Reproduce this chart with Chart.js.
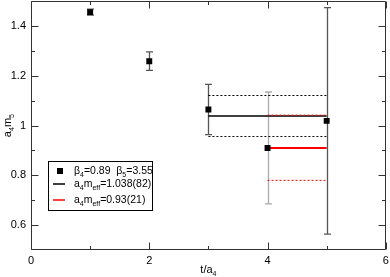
<!DOCTYPE html>
<html>
<head>
<meta charset="utf-8">
<script src="https://cdn.jsdelivr.net/npm/chart.js@4/dist/chart.umd.min.js"></script>
<style>
html,body{margin:0;padding:0;background:#fff;overflow:hidden;}
#c{display:block;}
</style>
</head>
<body>
<canvas id="c" width="390" height="277"></canvas>
<script>
// ---- data ----
const tValues = [1, 2, 3, 4, 5];
const meffValues = [1.456, 1.259, 1.065, 0.910, 1.019];
const meffErrors = [0.012, 0.037, 0.101, 0.225, 0.455];

const fit1Range = [3, 5];
const fit1Value = 1.039;
const fit1Band = [0.956, 1.121];

const fit2Range = [4, 5];
const fit2Value = 0.910;
const fit2Band = [0.780, 1.042];

const xTickValues = [0, 2, 4, 6];
const xMinorTicks = [1, 3, 5];
const yTickValues = [0.6, 0.8, 1.0, 1.2, 1.4];
const yMinorTicks = [0.7, 0.9, 1.1, 1.3];

const legendLabels = [
  [['β', ''], ['4', 'sub'], ['=0.89  β', ''], ['5', 'sub'], ['=3.55', '']],
  [['a', ''], ['4', 'sub'], ['m', ''], ['eff', 'sub'], ['=1.038(82)', '']],
  [['a', ''], ['4', 'sub'], ['m', ''], ['eff', 'sub'], ['=0.93(21)', '']]
];
const xTitle = [['t/a', ''], ['4', 'sub']];
const yTitle = [['a', ''], ['4', 'sub'], ['m', ''], ['5', 'sub']];

// ---- styles ----
const errColors = ['#555', '#555', '#555', '#aaa', '#555'];
const FONT = '"Liberation Sans", Arial, sans-serif';
let SHIFT = 0;

function lineData(range, v) { return range.map(x => ({x: x, y: v})); }

function drawRich(ctx, parts, x, y, size, align) {
  let w = 0;
  const subSize = Math.round(size * 0.68);
  parts.forEach(p => {
    ctx.font = (p[1] === 'sub' ? subSize : size) + 'px ' + FONT;
    w += ctx.measureText(p[0]).width;
  });
  let cx = align === 'center' ? x - w / 2 : x;
  ctx.textAlign = 'left';
  ctx.textBaseline = 'alphabetic';
  parts.forEach(p => {
    const sub = p[1] === 'sub';
    ctx.font = (sub ? subSize : size) + 'px ' + FONT;
    ctx.fillText(p[0], cx, sub ? y + size * 0.3 : y);
    cx += ctx.measureText(p[0]).width;
  });
  return w;
}

const errorBarPlugin = {
  id: 'errbars',
  beforeDatasetsDraw(chart) {
    const ctx = chart.ctx, xs = chart.scales.x, ys = chart.scales.y;
    ctx.save();
    ctx.lineWidth = 1.3;
    tValues.forEach((t, i) => {
      const px = Math.round(xs.getPixelForValue(t)) + 0.5;
      const top = ys.getPixelForValue(meffValues[i] + meffErrors[i]);
      const bot = ys.getPixelForValue(meffValues[i] - meffErrors[i]);
      ctx.strokeStyle = errColors[i];
      ctx.beginPath();
      ctx.moveTo(px, top); ctx.lineTo(px, bot);
      ctx.moveTo(px - 3.5, top); ctx.lineTo(px + 3.5, top);
      ctx.moveTo(px - 3.5, bot); ctx.lineTo(px + 3.5, bot);
      ctx.stroke();
    });
    ctx.restore();
  }
};

const frameTicksPlugin = {
  id: 'frameTicks',
  afterDraw(chart) {
    const ctx = chart.ctx, xs = chart.scales.x, ys = chart.scales.y;
    const a = chart.chartArea;
    ctx.save();
    ctx.strokeStyle = '#333';
    ctx.lineWidth = 1;
    const L = Math.round(a.left) + 0.5, R = Math.round(a.right) - 0.5;
    const T = Math.round(a.top) + 0.5, B = Math.round(a.bottom) - 0.5;
    ctx.beginPath();
    ctx.rect(L, T, R - L, B - T);
    const xt = (v, len) => {
      const p = Math.round(xs.getPixelForValue(v)) + 0.5;
      ctx.moveTo(p, B); ctx.lineTo(p, B - len);
      ctx.moveTo(p, T); ctx.lineTo(p, T + len);
    };
    const yt = (v, len) => {
      const p = Math.round(ys.getPixelForValue(v)) + 0.5;
      ctx.moveTo(L, p); ctx.lineTo(L + len, p);
      ctx.moveTo(R, p); ctx.lineTo(R - len, p);
    };
    xTickValues.forEach(v => xt(v, 7));
    xMinorTicks.forEach(v => xt(v, 3.5));
    yTickValues.forEach(v => yt(v, 7));
    yMinorTicks.forEach(v => yt(v, 3.5));
    ctx.stroke();

    // axis titles
    ctx.fillStyle = '#000';
    drawRich(ctx, xTitle, (a.left + a.right) / 2, a.bottom + 23, 11, 'center');
    ctx.save();
    ctx.translate(11, (a.top + a.bottom) / 2);
    ctx.rotate(-Math.PI / 2);
    drawRich(ctx, yTitle, 0, 0, 11, 'center');
    ctx.restore();

    // legend
    const lx = 48.5, ly = 161.5 + SHIFT, lw = 104, lh = 49;
    ctx.fillStyle = '#fff';
    ctx.fillRect(lx, ly, lw, lh);
    ctx.strokeStyle = '#000';
    ctx.lineWidth = 1;
    ctx.strokeRect(lx, ly, lw, lh);
    const rows = [171 + SHIFT, 184 + SHIFT, 200 + SHIFT];
    ctx.fillStyle = '#000';
    ctx.fillRect(57, rows[0] - 3, 6, 6);
    ctx.lineWidth = 1.5;
    ctx.strokeStyle = '#000';
    ctx.beginPath(); ctx.moveTo(53, rows[1]); ctx.lineTo(65, rows[1]); ctx.stroke();
    ctx.strokeStyle = '#f00';
    ctx.beginPath(); ctx.moveTo(53, rows[2]); ctx.lineTo(65, rows[2]); ctx.stroke();
    ctx.fillStyle = '#000';
    legendLabels.forEach((parts, i) => drawRich(ctx, parts, 74, rows[i] + 3, 10.5, 'left'));
    ctx.restore();
  }
};

function zeroPad(s) { s.paddingTop = 0; s.paddingBottom = 0; s.paddingLeft = 0; s.paddingRight = 0; }

const canvas = document.getElementById('c');

function build(h) {
  canvas.width = 390; canvas.height = h;
  canvas.style.width = '390px'; canvas.style.height = h + 'px';
  return new Chart(canvas, {
    type: 'scatter',
    data: {
      datasets: [
        { data: lineData(fit1Range, fit1Band[1]), showLine: true, borderColor: '#000', borderWidth: 1, borderDash: [2, 2], pointRadius: 0 },
        { data: lineData(fit1Range, fit1Band[0]), showLine: true, borderColor: '#000', borderWidth: 1, borderDash: [2, 2], pointRadius: 0 },
        { data: lineData(fit1Range, fit1Value), showLine: true, borderColor: '#000', borderWidth: 1.5, pointRadius: 0 },
        { data: lineData(fit2Range, fit2Band[1]), showLine: true, borderColor: '#f00', borderWidth: 1, borderDash: [2, 2], pointRadius: 0 },
        { data: lineData(fit2Range, fit2Band[0]), showLine: true, borderColor: '#f00', borderWidth: 1, borderDash: [2, 2], pointRadius: 0 },
        { data: lineData(fit2Range, fit2Value), showLine: true, borderColor: '#f00', borderWidth: 2, pointRadius: 0 },
        { data: tValues.map((t, i) => ({x: t, y: meffValues[i]})), pointStyle: 'rect', pointRadius: 4.2, backgroundColor: '#000', borderColor: '#000', borderWidth: 0 }
      ].reverse()
    },
    options: {
      responsive: false,
      maintainAspectRatio: false,
      animation: false,
      devicePixelRatio: 1,
      layout: { padding: { left: 0, right: 4, top: 1, bottom: 0 } },
      plugins: { legend: { display: false }, tooltip: { enabled: false } },
      scales: {
        x: {
          type: 'linear', min: 0, max: 6,
          grid: { display: false, drawTicks: false },
          border: { display: false },
          afterBuildTicks: s => { s.ticks = xTickValues.map(v => ({value: v})); },
          afterFit: s => { s.height = 27; zeroPad(s); },
          ticks: { color: '#000', font: { size: 11, family: FONT }, padding: 4, maxRotation: 0, callback: v => String(v) }
        },
        y: {
          type: 'linear', min: 0.5, max: 1.5,
          grid: { display: false, drawTicks: false },
          border: { display: false },
          afterBuildTicks: s => { s.ticks = yTickValues.map(v => ({value: v})); },
          afterFit: s => { s.width = 31; zeroPad(s); },
          ticks: { color: '#000', font: { size: 11, family: FONT }, padding: 5, callback: v => String(Math.round(v * 10) / 10) }
        }
      }
    },
    plugins: [errorBarPlugin, frameTicksPlugin]
  });
}

let chart = build(277);
const d = Math.round(chart.chartArea.top) - 1;
if (d > 0) {
  chart.destroy();
  SHIFT = d;
  canvas.style.marginTop = (-d) + 'px';
  chart = build(277 + d);
}
</script>
</body>
</html>
